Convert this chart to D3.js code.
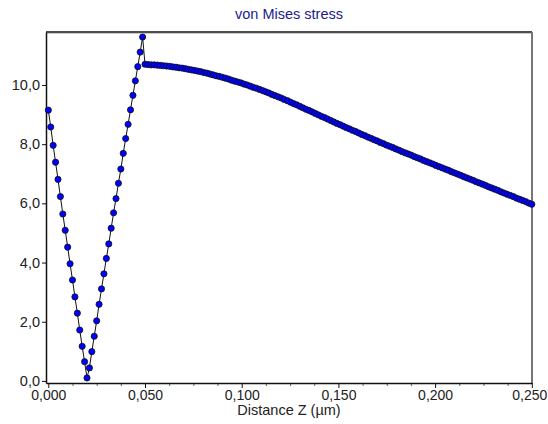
<!DOCTYPE html>
<html>
<head>
<meta charset="utf-8">
<script src="https://cdn.jsdelivr.net/npm/d3@7"></script>
<style>
  html, body { margin: 0; padding: 0; background: #fff; }
  svg { display: block; }
  text { font-family: "Liberation Sans", Arial, sans-serif; }
</style>
</head>
<body>
<svg id="chart" width="548" height="424"></svg>
<script>
// Chart text
const chartTitle = "von Mises stress";
const xTitle = "Distance Z (µm)";

// Tick values
const xMajorTicks = [0, 0.05, 0.10, 0.15, 0.20, 0.25];
const xMinorTicks = [0.0125, 0.025, 0.0375, 0.0625, 0.075, 0.0875, 0.1125, 0.125, 0.1375,
                     0.1625, 0.175, 0.1875, 0.2125, 0.225, 0.2375];
const yTicks = [0, 2, 4, 6, 8, 10];

// Falling flank near the surface
const zFall = [0, 0.00125, 0.0025, 0.00375, 0.005, 0.00625, 0.0075, 0.00875, 0.01,
               0.01125, 0.0125, 0.01375, 0.015, 0.01625, 0.0175, 0.01875, 0.02];
const sFall = [9.15, 8.58, 7.96, 7.39, 6.81, 6.23, 5.64, 5.09, 4.52,
               3.96, 3.41, 2.84, 2.29, 1.72, 1.17, 0.65, 0.10];

// Rising flank up to the interface peak
const zRise = [0.02125, 0.0225, 0.02375, 0.025, 0.02625, 0.0275, 0.02875, 0.03, 0.03125,
               0.0325, 0.03375, 0.035, 0.03625, 0.0375, 0.03875, 0.04, 0.04125, 0.0425,
               0.04375, 0.045, 0.04625, 0.0475, 0.04875];
const sRise = [0.44, 0.99, 1.51, 2.03, 2.59, 3.11, 3.62, 4.14, 4.63,
               5.16, 5.68, 6.16, 6.68, 7.16, 7.69, 8.19, 8.67, 9.16,
               9.65, 10.14, 10.62, 11.11, 11.62];

// Substrate region
const zBulk = [0.0500, 0.0516, 0.0532, 0.0548, 0.0564, 0.0580, 0.0596, 0.0612, 0.0628, 0.0644,
               0.0660, 0.0676, 0.0692, 0.0708, 0.0724, 0.0740, 0.0756, 0.0772, 0.0788, 0.0804,
               0.0820, 0.0836, 0.0852, 0.0868, 0.0884, 0.0900, 0.0916, 0.0932, 0.0948, 0.0964,
               0.0980, 0.0996, 0.1012, 0.1028, 0.1044, 0.1060, 0.1076, 0.1092, 0.1108, 0.1124,
               0.1140, 0.1156, 0.1172, 0.1188, 0.1204, 0.1220, 0.1236, 0.1252, 0.1268, 0.1284,
               0.1300, 0.1316, 0.1332, 0.1348, 0.1364, 0.1380, 0.1396, 0.1412, 0.1428, 0.1444,
               0.1460, 0.1476, 0.1492, 0.1508, 0.1524, 0.1540, 0.1556, 0.1572, 0.1588, 0.1604,
               0.1620, 0.1636, 0.1652, 0.1668, 0.1684, 0.1700, 0.1716, 0.1732, 0.1748, 0.1764,
               0.1780, 0.1796, 0.1812, 0.1828, 0.1844, 0.1860, 0.1876, 0.1892, 0.1908, 0.1924,
               0.1940, 0.1956, 0.1972, 0.1988, 0.2004, 0.2020, 0.2036, 0.2052, 0.2068, 0.2084,
               0.2100, 0.2116, 0.2132, 0.2148, 0.2164, 0.2180, 0.2196, 0.2212, 0.2228, 0.2244,
               0.2260, 0.2276, 0.2292, 0.2308, 0.2324, 0.2340, 0.2356, 0.2372, 0.2388, 0.2404,
               0.2420, 0.2436, 0.2452, 0.2468, 0.2484, 0.2500];
const sBulk = [10.70, 10.69, 10.68, 10.68, 10.67, 10.66, 10.65, 10.64, 10.63, 10.61,
               10.60, 10.58, 10.57, 10.55, 10.53, 10.51, 10.49, 10.47, 10.45, 10.42,
               10.40, 10.37, 10.34, 10.31, 10.29, 10.26, 10.23, 10.20, 10.16, 10.13,
               10.10, 10.07, 10.03, 10.00, 9.96, 9.92, 9.89, 9.85, 9.81, 9.77,
               9.73, 9.68, 9.64, 9.60, 9.56, 9.51, 9.47, 9.42, 9.37, 9.33,
               9.28, 9.23, 9.18, 9.14, 9.09, 9.04, 8.99, 8.94, 8.90, 8.85,
               8.80, 8.75, 8.70, 8.66, 8.61, 8.56, 8.52, 8.47, 8.43, 8.38,
               8.33, 8.29, 8.24, 8.20, 8.15, 8.11, 8.06, 8.02, 7.97, 7.93,
               7.89, 7.84, 7.80, 7.75, 7.71, 7.67, 7.63, 7.58, 7.54, 7.50,
               7.45, 7.41, 7.37, 7.33, 7.28, 7.24, 7.20, 7.16, 7.12, 7.07,
               7.03, 6.99, 6.95, 6.90, 6.86, 6.82, 6.78, 6.73, 6.69, 6.65,
               6.61, 6.56, 6.52, 6.48, 6.44, 6.39, 6.35, 6.31, 6.27, 6.23,
               6.18, 6.14, 6.10, 6.06, 6.01, 5.97];

// Assemble one ordered profile
const profile = []
  .concat(zFall.map((z, i) => ({ z, s: sFall[i] })))
  .concat(zRise.map((z, i) => ({ z, s: sRise[i] })))
  .concat(zBulk.map((z, i) => ({ z, s: sBulk[i] })));

const W = 548;
const svg = d3.select("#chart");
const plot = { left: 46, right: 532, top: 32, bottom: 383 };
const tickFont = 14;

const x = d3.scaleLinear().domain([-0.0012, 0.2501]).range([plot.left, plot.right]);
const y = d3.scaleLinear().domain([-0.07, 11.79]).range([plot.bottom, plot.top]);

const comma = (digits) => (v) => d3.format("." + digits + "f")(v).replace(".", ",");

// Frame
svg.append("line").attr("x1", plot.left).attr("x2", plot.right)
  .attr("y1", plot.top).attr("y2", plot.top)
  .attr("stroke", "#111").attr("stroke-width", 1.5);
svg.append("line").attr("x1", plot.left + 1).attr("x2", plot.right - 1)
  .attr("y1", plot.top + 1.5).attr("y2", plot.top + 1.5)
  .attr("stroke", "#ccc").attr("stroke-width", 1);
svg.append("line").attr("x1", plot.right).attr("x2", plot.right)
  .attr("y1", plot.top).attr("y2", plot.bottom)
  .attr("stroke", "#777").attr("stroke-width", 2);

// Y axis
const yAxis = svg.append("g")
  .attr("transform", `translate(${plot.left},0)`)
  .call(d3.axisLeft(y).tickValues(yTicks).tickFormat(comma(1)).tickSize(4).tickPadding(2).tickSizeOuter(0));
yAxis.select(".domain").attr("stroke", "#111").attr("stroke-width", 1.5);
yAxis.selectAll(".tick line").attr("stroke", "#111");
yAxis.selectAll(".tick text").attr("font-size", 14.5).attr("fill", "#222")
  .attr("font-family", "'Liberation Sans', Arial, sans-serif");

// X axis: major and minor ticks
const xMinor = svg.append("g")
  .attr("transform", `translate(0,${plot.bottom})`)
  .call(d3.axisBottom(x).tickValues(xMinorTicks).tickFormat("").tickSize(3).tickSizeOuter(0));
xMinor.select(".domain").remove();
xMinor.selectAll(".tick line").attr("stroke", "#666");

const xAxis = svg.append("g")
  .attr("transform", `translate(0,${plot.bottom})`)
  .call(d3.axisBottom(x).tickValues(xMajorTicks).tickFormat(comma(3)).tickSize(5).tickPadding(2).tickSizeOuter(0));
xAxis.select(".domain").attr("stroke", "#111").attr("stroke-width", 1.5);
xAxis.selectAll(".tick line").attr("stroke", "#111");
xAxis.selectAll(".tick text").attr("font-size", tickFont).attr("fill", "#222")
  .attr("font-family", "'Liberation Sans', Arial, sans-serif");

// Keep the last x label inside the page edge
xAxis.selectAll(".tick text").each(function () {
  const box = this.getBBox();
  const tx = x(d3.select(this.parentNode).datum());
  const overflow = tx + box.x + box.width - (W - 1);
  if (overflow > 0) d3.select(this).attr("dx", -overflow);
});

// Titles
svg.append("text")
  .attr("x", (plot.left + plot.right) / 2).attr("y", 19)
  .attr("text-anchor", "middle").attr("font-size", 14.5).attr("fill", "#1c1c8c")
  .text(chartTitle);
svg.append("text")
  .attr("x", (plot.left + plot.right) / 2).attr("y", 415)
  .attr("text-anchor", "middle").attr("font-size", 14.5).attr("fill", "#222")
  .text(xTitle);

// Profile line and node markers
svg.append("path")
  .datum(profile)
  .attr("fill", "none").attr("stroke", "#111").attr("stroke-width", 1)
  .attr("d", d3.line().x(d => x(d.z)).y(d => y(d.s)));

svg.append("g").selectAll("circle")
  .data(profile)
  .join("circle")
  .attr("cx", d => x(d.z)).attr("cy", d => y(d.s))
  .attr("r", 3.1)
  .attr("fill", "#0000ff").attr("stroke", "#111").attr("stroke-width", 0.8);
</script>
</body>
</html>
